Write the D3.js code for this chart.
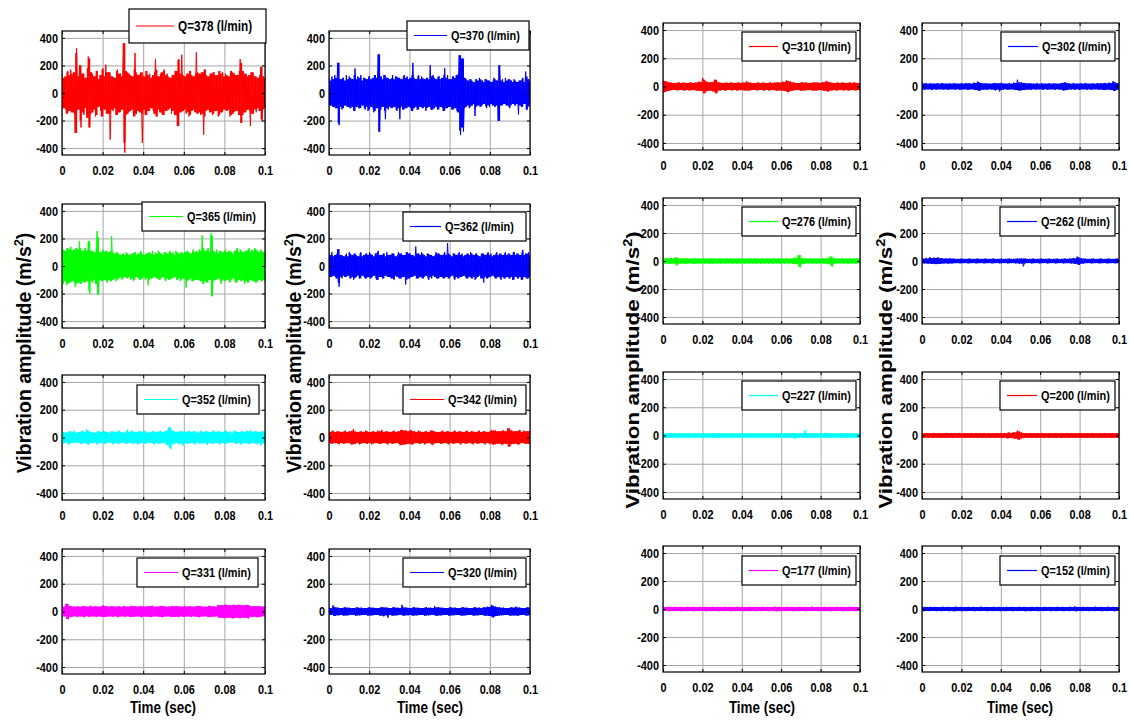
<!DOCTYPE html>
<html><head><meta charset="utf-8">
<script src="https://cdn.jsdelivr.net/npm/d3@7"></script>
<style>body{margin:0;background:#fff}svg{display:block}text{font-family:"Liberation Sans",Arial,sans-serif;font-weight:bold;fill:#000}</style>
</head><body>
<script>
// ---------------- DATA ----------------
const flowRates = [378,370,310,302,365,362,276,262,352,342,227,200,331,320,177,152];
const seriesColors = ["#ff0000","#0000ff","#ff0000","#0000ff","#00ff00","#0000ff","#00ff00","#0000ff","#00ffff","#ff0000","#00ffff","#ff0000","#ff00ff","#0000ff","#ff00ff","#0000ff"];
const xTickValues = [0,0.02,0.04,0.06,0.08,0.1];
const xTickLabels = ["0","0.02","0.04","0.06","0.08","0.1"];
const yTickValues = [400,200,0,-200,-400];
const yTickLabels = ["400","200","0","-200","-400"];

// successive positive / negative excursions (m/s^2)
const q378 = [130,-110,120,-150,160,-130,170,-140,150,-290,326,-120,200,-250,140,-160,110,-180,265,-250,150,-140,120,-170,160,-100,130,-170,180,-120,205,-150,150,-338,120,-130,110,-160,170,-140,140,-120,362,-433,160,-150,140,-130,120,-170,290,-150,130,-140,150,-362,120,-160,160,-130,140,-110,130,-150,245,-170,120,-140,150,-160,170,-130,140,-120,110,-150,130,-160,160,-240,245,-140,278,-130,120,-150,140,-170,160,-130,120,-140,295,-150,140,-160,150,-302,170,-130,120,-140,140,-160,150,-130,130,-170,160,-140,150,-120,140,-130,120,-170,160,-150,140,-130,130,-160,245,-218,160,-140,140,-120,130,-240,150,-150,120,-140,110,-130,190,-205,120,-110];
const q370 = [110,-90,120,-100,130,-110,219,-233,100,-120,110,-90,130,-100,120,-110,100,-130,178,-100,120,-110,130,-90,110,-120,100,-130,120,-100,110,-140,130,-110,281,-281,120,-100,130,-190,110,-120,100,-110,130,-100,120,-130,110,-190,100,-120,130,-110,120,-100,110,-130,219,-110,100,-120,130,-100,120,-110,100,-130,110,-100,202,-120,130,-110,100,-120,120,-100,110,-130,180,-110,130,-100,100,-120,120,-110,130,-140,274,-305,250,-280,110,-100,90,-110,100,-90,80,-167,100,-90,110,-100,90,-80,100,-110,90,-100,80,-90,110,-100,90,-202,202,-90,100,-80,110,-90,100,-110,90,-80,100,-90,80,-155,90,-100,110,-80,155,-120,100,-90];
const q310 = [45,-40,35,-30,28,-25,25,-28,30,-25,28,-30,25,-28,30,-25,28,-30,35,-32,60,-48,35,-30,30,-35,48,-48,30,-28,25,-30,28,-25,30,-28,25,-30,28,-25,30,-28,38,-30,28,-25,25,-28,30,-25,28,-30,25,-28,30,-25,28,-30,30,-28,35,-32,45,-40,35,-30,28,-25,25,-30,30,-28,28,-25,25,-30,30,-28,28,-25,32,-30,40,-35,30,-28,25,-30,28,-25,30,-28,25,-30,28,-25,30,-28,25,-27];
const q302 = [30,-22,25,-20,22,-25,20,-22,22,-20,25,-22,20,-25,22,-20,25,-22,20,-25,22,-20,25,-22,22,-20,28,-25,35,-30,25,-22,22,-25,20,-22,25,-28,22,-35,25,-22,20,-25,22,-20,28,-25,48,-28,30,-25,25,-22,22,-25,20,-22,25,-20,22,-25,20,-22,25,-20,22,-25,20,-22,25,-28,30,-25,22,-20,25,-22,20,-25,22,-20,25,-22,20,-25,22,-20,25,-22,22,-25,25,-22,28,-25,38,-32,25,-22];
const q365 = [120,-130,110,-140,130,-120,140,-110,120,-150,130,-120,180,-130,110,-120,130,-110,180,-202,110,-120,100,-130,254,-209,100,-110,120,-100,110,-120,100,-110,217,-100,90,-110,100,-90,80,-100,90,-80,100,-90,80,-100,90,-110,100,-80,90,-100,110,-90,80,-100,90,-140,100,-90,110,-80,100,-90,110,-100,90,-80,100,-110,90,-100,110,-90,100,-80,110,-100,90,-110,100,-90,100,-158,110,-100,90,-110,120,-100,110,-100,120,-110,222,-130,110,-120,130,-100,236,-219,110,-100,120,-90,110,-130,100,-110,120,-100,110,-120,100,-90,110,-120,130,-100,120,-110,100,-130,110,-120,130,-100,120,-110,130,-120,110,-100,120,-110,100,-120];
const q362 = [90,-80,100,-70,80,-90,122,-150,80,-90,70,-80,90,-70,100,-90,80,-100,90,-80,70,-90,100,-70,80,-90,90,-80,100,-90,80,-70,90,-100,110,-80,80,-90,90,-70,100,-80,80,-90,90,-100,70,-80,100,-90,90,-80,80,-134,100,-90,90,-80,80,-70,141,-90,90,-80,100,-90,80,-70,90,-100,80,-90,70,-80,100,-90,90,-80,80,-90,100,-80,166,-90,80,-70,90,-100,80,-90,100,-80,90,-70,80,-90,90,-80,100,-90,80,-100,90,-80,70,-90,90,-120,80,-90,100,-80,90,-70,80,-90,100,-80,90,-100,80,-90,100,-80,90,-90,80,-100,100,-80,90,-90,80,-100,117,-80,90,-90,100,-80];
const q276 = [20,-18,18,-20,22,-18,25,-32,20,-18,18,-20,20,-17,17,-20,20,-18,18,-17,20,-18,17,-20,18,-18,20,-17,18,-20,17,-18,20,-17,18,-20,17,-18,20,-17,18,-20,17,-18,20,-17,18,-20,17,-18,20,-17,18,-20,17,-18,20,-17,18,-20,17,-18,20,-17,18,-20,25,-22,42,-45,22,-20,18,-17,20,-18,17,-20,18,-17,20,-18,22,-20,32,-40,20,-18,18,-17,20,-18,17,-20,18,-17,20,-18,18,-17];
const q262 = [20,-17,22,-18,28,-20,25,-22,28,-20,20,-17,17,-18,18,-17,17,-15,15,-17,17,-15,15,-17,17,-15,15,-17,17,-15,15,-17,17,-15,15,-17,17,-15,15,-17,17,-15,15,-17,17,-15,15,-17,17,-20,18,-38,17,-15,15,-17,17,-15,15,-17,17,-15,15,-17,17,-15,15,-17,17,-15,15,-17,17,-15,18,-17,22,-20,32,-27,20,-18,17,-15,15,-17,17,-15,15,-17,17,-15,15,-17,17,-15,15,-17,17,-15];
const q352 = [40,-45,35,-50,45,-40,50,-35,40,-45,50,-40,60,-50,40,-45,35,-50,45,-40,50,-45,40,-35,45,-50,40,-45,50,-40,35,-45,58,-40,50,-45,40,-50,45,-40,50,-45,35,-40,45,-50,40,-45,50,-40,45,-55,73,-85,50,-45,40,-50,45,-60,40,-45,50,-40,45,-50,35,-45,50,-40,45,-55,40,-45,50,-40,45,-50,40,-45,50,-40,45,-35,50,-45,40,-50,45,-40,50,-45,55,-40,45,-50,40,-60,45,-40];
const q342 = [40,-45,50,-40,45,-50,40,-45,50,-40,45,-50,60,-45,40,-50,45,-40,50,-45,40,-50,45,-40,50,-45,55,-40,45,-50,40,-45,50,-40,45,-55,55,-50,50,-45,55,-50,45,-40,50,-45,40,-50,45,-40,50,-55,45,-40,40,-45,50,-40,45,-50,40,-45,50,-40,45,-50,40,-45,50,-40,45,-50,40,-45,50,-40,45,-50,40,-45,55,-50,50,-45,45,-55,50,-45,66,-66,50,-45,45,-50,55,-40,50,-45,45,-50];
const q331 = [40,-35,57,-55,40,-38,35,-40,38,-35,40,-42,35,-38,42,-35,38,-40,35,-38,45,-40,38,-35,40,-38,35,-42,38,-35,40,-38,35,-40,42,-38,38,-35,40,-42,35,-38,38,-40,42,-35,35,-38,40,-42,38,-35,35,-40,40,-38,38,-42,35,-38,40,-35,38,-40,35,-38,40,-42,38,-35,35,-40,42,-38,38,-35,48,-45,45,-48,50,-45,45,-50,48,-45,50,-48,45,-45,48,-50,40,-38,38,-42,40,-38,35,-40];
const q320 = [30,-25,45,-32,28,-27,25,-30,30,-28,27,-25,25,-30,30,-27,28,-25,25,-30,30,-28,27,-25,25,-30,30,-35,28,-45,25,-30,30,-28,27,-25,48,-30,28,-27,25,-30,30,-28,27,-25,25,-30,30,-27,28,-25,38,-30,30,-28,27,-25,25,-30,30,-27,28,-25,25,-30,30,-28,27,-25,25,-30,30,-27,28,-25,32,-30,35,-32,48,-42,35,-32,30,-27,28,-25,25,-30,30,-28,35,-30,28,-25,25,-30,30,-27];
const q227 = [17,-15,15,-17,17,-15,16,-17,15,-16,17,-15,16,-17,15,-16,17,-15,16,-17,15,-16,17,-15,16,-17,15,-16,17,-15,16,-17,15,-16,17,-15,16,-17,15,-16,17,-15,16,-17,15,-16,17,-15,16,-17,15,-16,17,-15,16,-17,15,-16,17,-15,16,-17,15,-16,17,-25,16,-17,15,-16,38,-17,16,-15,17,-16,15,-17,16,-15,20,-17,16,-15,17,-16,15,-17,16,-15,17,-16,15,-17,16,-15,17,-16];
const q200 = [18,-16,17,-18,16,-17,18,-16,17,-18,16,-17,18,-16,17,-18,16,-17,18,-16,17,-18,16,-17,18,-16,17,-18,16,-17,18,-16,17,-18,16,-17,18,-16,17,-18,16,-20,22,-18,25,-22,35,-30,22,-18,17,-16,18,-17,16,-18,17,-16,18,-17,16,-18,17,-16,18,-17,16,-18,17,-16,18,-17,16,-18,17,-16,18,-17,16,-18,17,-16,18,-17,16,-18,17,-16,18,-17,16,-18,17,-16,18,-17];
const q177 = [16,-14,15,-16,14,-15,16,-14,15,-16,14,-15,17,-14,15,-16,14,-15,16,-14,15,-17,14,-15,16,-14,15,-16,14,-15,16,-14,15,-16,14,-15,17,-14,15,-16,14,-15,16,-14,15,-16,14,-15,16,-14,15,-16,14,-15,16,-17,15,-16,14,-15,16,-14,15,-16,14,-15,16,-14,15,-16,14,-15,17,-14,15,-16,14,-15,16,-14,15,-16,14,-15,16,-14,15,-16,14,-15,16,-14,15,-16,14,-15];
const q152 = [15,-16,14,-15,16,-14,15,-16,14,-15,16,-14,15,-16,14,-17,16,-14,15,-16,14,-15,16,-14,15,-16,14,-15,17,-14,15,-16,14,-15,16,-14,15,-16,14,-15,16,-14,15,-16,14,-15,16,-14,15,-17,14,-15,16,-14,15,-16,14,-15,16,-14,15,-16,14,-15,16,-14,15,-16,14,-15,16,-14,18,-16,14,-15,16,-14,15,-16,14,-15,16,-14,15,-16,14,-15,16,-14,15,-16,14,-15];
const seriesValues = [q378,q370,q310,q302,q365,q362,q276,q262,q352,q342,q227,q200,q331,q320,q177,q152];

// ---------------- LAYOUT ----------------
const colX = [[62,265],[329,530],[663,860],[922,1119]];
const rowYLeft = [[31,155],[204,328],[375,500],[549,674]];
const rowYRight = [[23,150],[198,324],[372,499],[546,672]];
// legend boxes [x,y,w,h,lineLen,fontSize]
const legendBoxes = [
 [129,9,137,34,38,14],[407,21,122,29,33,13],[742,32,114,29,29,13],[1001,32,114,29,30,13],
 [142,202,123,29,34,13],[403,212,123,29,31,13],[742,207,114,29,29,13],[1000,207,115,29,30,13],
 [137,385,122,29,34,13],[403,385,123,29,34,13],[742,381,114,29,29,13],[1000,381,115,29,30,13],
 [137,558,121,29,34,13],[403,558,123,29,34,13],[742,556,114,29,29,13],[1000,556,115,29,30,13]];
const SX = 0.84;

const svg = d3.select("body").append("svg").attr("width",1129).attr("height",724);
svg.append("rect").attr("width",1129).attr("height",724).attr("fill","#fff");
const defs = svg.append("defs");

function label(g, x, y, str, size, anchor){
  return g.append("text").attr("transform",`translate(${x},${y}) scale(${SX},1)`)
    .attr("text-anchor",anchor).style("font-size",size+"px").text(str);
}

flowRates.forEach((q, k) => {
  const row = Math.floor(k/4), col = k%4;
  const [x0,x1] = colX[col];
  const [y0,y1] = (col<2 ? rowYLeft : rowYRight)[row];
  const x = d3.scaleLinear().domain([0,0.1]).range([x0,x1]);
  const y = d3.scaleLinear().domain([-450,450]).range([y1,y0]);
  const g = svg.append("g");

  // grid
  const gx = g.append("g").attr("transform",`translate(0,${y1})`)
    .call(d3.axisBottom(x).tickValues(xTickValues).tickSize(-(y1-y0)).tickFormat(""));
  const gy = g.append("g").attr("transform",`translate(${x0},0)`)
    .call(d3.axisLeft(y).tickValues(yTickValues).tickSize(-(x1-x0)).tickFormat(""));
  [gx,gy].forEach(a=>{a.select(".domain").remove();a.selectAll("line").attr("stroke","#a6a6a6").attr("stroke-width",1);});

  // signal
  const cid = "clip"+k;
  defs.append("clipPath").attr("id",cid).append("rect").attr("x",x0).attr("y",y0).attr("width",x1-x0).attr("height",y1-y0);
  const vals = seriesValues[k];
  const n = vals.length;
  const tx = i => x(i*0.1/(n-1));
  const sg = g.append("g").attr("clip-path",`url(#${cid})`);
  // dense core of the trace: the common swing of consecutive samples
  sg.append("g").attr("fill",seriesColors[k])
    .selectAll("rect").data(d3.range(n-1)).join("rect")
    .attr("x", i => tx(i))
    .attr("width", i => tx(i+1)-tx(i)+0.5)
    .attr("y", i => y(Math.min(Math.max(vals[i],vals[i+1]), -Math.min(vals[i],vals[i+1]))))
    .attr("height", i => {
      const hi = Math.max(vals[i],vals[i+1]), lo = Math.min(vals[i],vals[i+1]);
      const top = Math.min(hi,-lo), bot = Math.max(lo,-hi);
      return Math.max(0, y(bot)-y(top));
    });
  // the trace itself
  const line = d3.line().x((d,i)=>tx(i)).y(d=>y(d));
  sg.append("path").datum(vals).attr("d",line).attr("fill","none")
    .attr("stroke",seriesColors[k]).attr("stroke-width",1).attr("stroke-linejoin","miter").attr("stroke-miterlimit",2);

  // axes with inward ticks
  const ab = g.append("g").attr("transform",`translate(0,${y1})`)
    .call(d3.axisBottom(x).tickValues(xTickValues).tickSize(-3).tickPadding(11).tickFormat((d,i)=>xTickLabels[i]));
  const at = g.append("g").attr("transform",`translate(0,${y0})`)
    .call(d3.axisTop(x).tickValues(xTickValues).tickSize(-3).tickFormat(""));
  const al = g.append("g").attr("transform",`translate(${x0},0)`)
    .call(d3.axisLeft(y).tickValues(yTickValues).tickSize(-3).tickPadding(4).tickFormat((d,i)=>yTickLabels[i]));
  const ar = g.append("g").attr("transform",`translate(${x1},0)`)
    .call(d3.axisRight(y).tickValues(yTickValues).tickSize(-3).tickFormat(""));
  [ab,at,al,ar].forEach(a=>{
    a.select(".domain").remove();
    a.selectAll("line").attr("stroke","#000").attr("stroke-width",1);
    a.selectAll("text").style("font-size","13px").style("font-family",'"Liberation Sans",Arial,sans-serif')
      .style("font-weight","bold").attr("fill","#000");
  });
  ab.selectAll(".tick text").attr("transform",`scale(${SX},1)`);
  al.selectAll(".tick text").attr("transform",`scale(${SX},1)`).attr("x",-4/SX);

  g.append("rect").attr("x",x0).attr("y",y0).attr("width",x1-x0).attr("height",y1-y0)
    .attr("fill","none").attr("stroke","#000").attr("stroke-width",1.2);

  // legend
  const [lx,ly,lw,lh,ll,fs] = legendBoxes[k];
  g.append("rect").attr("x",lx).attr("y",ly).attr("width",lw).attr("height",lh)
    .attr("fill","#fff").attr("stroke","#000").attr("stroke-width",1.2);
  const cy = ly + lh/2;
  g.append("line").attr("x1",lx+7).attr("x2",lx+7+ll).attr("y1",cy).attr("y2",cy)
    .attr("stroke",seriesColors[k]).attr("stroke-width",1.2);
  label(g, lx+7+ll+4, cy+fs*0.36, `Q=${q} (l/min)`, fs, "start");
});

// axis titles
const xTitleCenters = [163,430,762,1020];
xTitleCenters.forEach(cx => label(svg, cx, 713, "Time (sec)", 16, "middle"));
// [x, y, fontSize, xScale]
const yTitle = [[31,353,19.5,1.05],[301,353,19.5,1.05],[639,370,22.5,0.82],[892,370,22.5,0.82]];
yTitle.forEach(([tx,ty,fs,sc]) => {
  const t = svg.append("text").attr("transform",`translate(${tx},${ty}) scale(${sc},1) rotate(-90)`)
    .attr("text-anchor","middle").style("font-size",fs+"px");
  t.append("tspan").text("Vibration amplitude  (m/s");
  t.append("tspan").attr("dy",-fs*0.4).style("font-size",(fs*0.65)+"px").text("2");
  t.append("tspan").attr("dy",fs*0.4).text(")");
});
</script>
</body></html>
